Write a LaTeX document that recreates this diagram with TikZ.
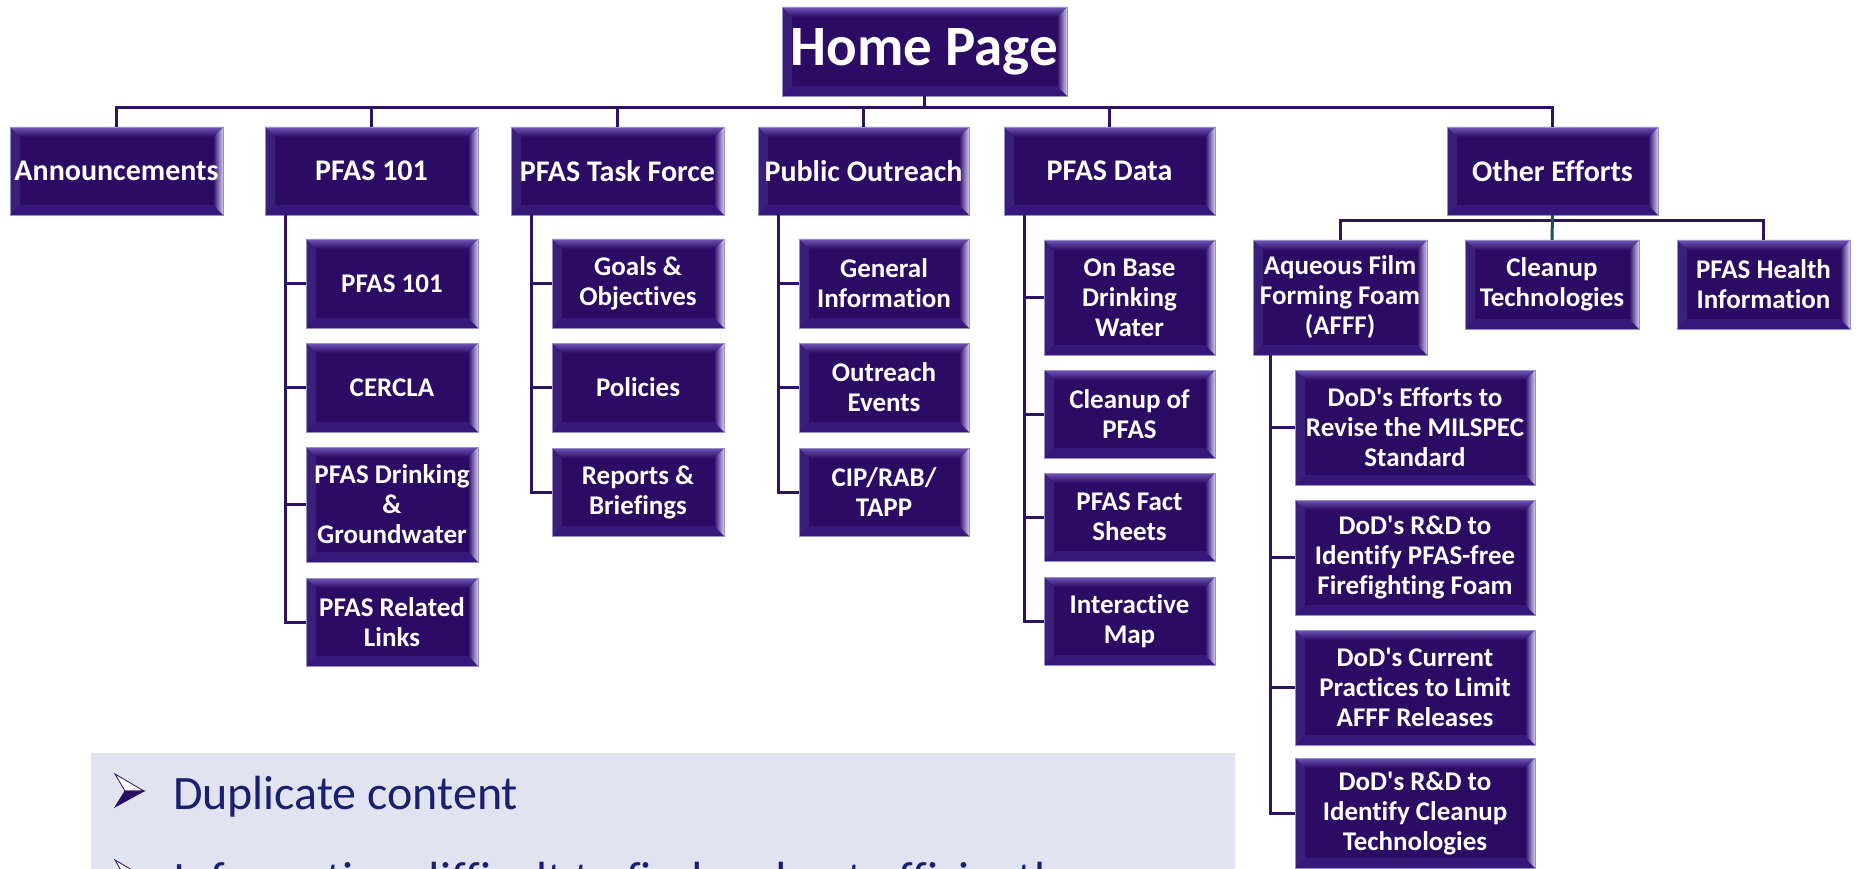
\documentclass[tikz,border=0pt]{standalone}
\usepackage{fontspec}
\setmainfont{Carlito}[Ligatures={NoCommon}]
\usetikzlibrary{calc}
\definecolor{boxfill}{HTML}{2B0B63}
\definecolor{bevtop}{HTML}{6E55B8}
\definecolor{bevleft}{HTML}{3B2079}
\definecolor{bevright}{HTML}{D4C8F6}
\definecolor{bevbot}{HTML}{36187A}
\definecolor{boxline}{HTML}{9890C4}
\definecolor{connc}{HTML}{2E1266}
\definecolor{tealc}{HTML}{1E4F5C}
\definecolor{panel}{HTML}{E1E3F0}
\definecolor{navy}{HTML}{1A2070}
\tikzset{
  orgbox/.style={draw=boxline, line width=0.8pt, fill=boxfill, inner sep=0pt, outer sep=0pt,
    text=white, align=center, font=\bfseries\fontsize{27}{30}\selectfont,
    path picture={
      \coordinate (bA) at (path picture bounding box.north west);
      \coordinate (bB) at (path picture bounding box.north east);
      \coordinate (bC) at (path picture bounding box.south east);
      \coordinate (bD) at (path picture bounding box.south west);
      \fill[bevleft] (bA) -- ($(bA)+(10pt,-10pt)$) -- ($(bD)+(10pt,10pt)$) -- (bD) -- cycle;
      \fill[bevbot] (bD) -- ($(bD)+(10pt,10pt)$) -- ($(bC)+(-10pt,10pt)$) -- (bC) -- cycle;
      \shade[left color=boxfill, right color=bevright] (bB) -- (bC) -- ($(bC)+(-10pt,10pt)$) -- ($(bB)+(-10pt,-10pt)$) -- cycle;
      \shade[top color=bevtop, bottom color=boxfill] (bA) -- (bB) -- ($(bB)+(-10pt,-10pt)$) -- ($(bA)+(10pt,-10pt)$) -- cycle;
    }},
  toplvl/.style={font=\bfseries\fontsize{30}{32}\selectfont},
  conn/.style={draw=connc, line width=3pt},
  txt/.style={inner sep=0pt, outer sep=0pt, text=navy, font=\fontsize{48}{52}\selectfont},
}
\newcommand{\mybox}[7][]{\node[orgbox, #1, minimum width={(#5-#3)*1pt}, minimum height={(#6-#4)*1pt}] (#2) at ({(#3+#5)/2},{(#4+#6)/2}) {#7};}
\newcommand{\bularrow}[2]{%
  \filldraw[fill=white, draw=boxfill, line width=0.8pt] (#1,#2) -- ++(29,17) -- ++(-19,0) -- cycle;
  \filldraw[fill=boxfill, draw=boxfill, line width=0.8pt] ({#1+10},{#2+17}) -- ++(19,0) -- ({#1},{#2+33}) -- cycle;}
\begin{document}
\begin{tikzpicture}[x=1pt,y=-1pt]
\useasboundingbox (0,0) rectangle (1856,869);
\fill[white] (0,0) rectangle (1856,869);

% bottom panel
\fill[panel] (91,753) rectangle (1235,900);
\bularrow{115}{774}
\node[txt, anchor=base west] (dup) at (173,809) {Duplicate content};
\bularrow{115}{860}
\node[txt, anchor=base west] (info) at (173,895) {Information difficult to find and not efficiently};

% top
\mybox[font=\bfseries\fontsize{57}{60}\selectfont]{home}{782}{7}{1067}{96}{Home Page}
\mybox[toplvl]{ann}{10}{127}{223}{215}{Announcements}
\mybox[toplvl]{pa}{265}{127}{478}{215}{PFAS 101}
\mybox[toplvl]{tf}{511}{127}{724}{215}{PFAS Task Force}
\mybox[toplvl]{po}{758}{127}{969}{215}{Public Outreach}
\mybox[toplvl]{pd}{1004}{127}{1215}{215}{PFAS Data}
\mybox[toplvl]{oe}{1447}{127}{1658}{215}{Other Efforts}

% PFAS 101
\mybox{pa1}{306}{239}{478}{328}{PFAS 101}
\mybox{pa2}{306}{343}{478}{432}{CERCLA}
\mybox{pa3}{306}{447}{478}{562}{PFAS Drinking\\\&\\Groundwater}
\mybox{pa4}{306}{578}{478}{666}{PFAS Related\\Links}
% Task force
\mybox{tf1}{552}{239}{724}{328}{Goals \&\\Objectives}
\mybox{tf2}{552}{343}{724}{432}{Policies}
\mybox{tf3}{552}{448}{724}{536}{Reports \&\\Briefings}
% Public outreach
\mybox{po1}{799}{239}{969}{328}{General\\Information}
\mybox{po2}{799}{343}{969}{432}{Outreach\\Events}
\mybox{po3}{799}{448}{969}{536}{CIP/RAB/\\TAPP}
% PFAS Data
\mybox{pd1}{1044}{240}{1215}{355}{On Base\\Drinking\\Water}
\mybox{pd2}{1044}{370}{1215}{458}{Cleanup of\\PFAS}
\mybox{pd3}{1044}{473}{1215}{561}{PFAS Fact\\Sheets}
\mybox{pd4}{1044}{577}{1215}{665}{Interactive\\Map}
% Other efforts
\mybox{af}{1253}{240}{1427}{355}{Aqueous Film\\Forming Foam\\(AFFF)}
\mybox{ct}{1465}{240}{1639}{329}{Cleanup\\Technologies}
\mybox{ph}{1677}{240}{1850}{329}{PFAS Health\\Information}
\mybox{af1}{1295}{370}{1535}{485}{DoD\textquotesingle s Efforts to\\Revise the MILSPEC\\Standard}
\mybox{af2}{1295}{500}{1535}{615}{DoD\textquotesingle s R\&D to\\Identify PFAS-free\\Firefighting Foam}
\mybox{af3}{1295}{630}{1535}{745}{DoD\textquotesingle s Current\\Practices to Limit\\AFFF Releases}
\mybox{af4}{1295}{758}{1535}{868}{DoD\textquotesingle s R\&D to\\Identify Cleanup\\Technologies}

% connectors
\coordinate (bus) at (0,108);
\coordinate (sbus) at (0,221);
\draw[conn] (ann.north) -- (ann.north |- bus) -- (oe.north |- bus) -- (oe.north);
\foreach \n in {pa,tf,po,pd} \draw[conn] (\n.north) -- (\n.north |- bus);
\draw[conn] (home.south) -- (home.south |- bus);

\coordinate (paL) at ([xshift=20pt]pa.south west);
\draw[conn] (paL) |- (pa4.west);
\foreach \c in {pa1,pa2,pa3} \draw[conn] (paL |- \c.west) -- (\c.west);
\coordinate (tfL) at ([xshift=20pt]tf.south west);
\draw[conn] (tfL) |- (tf3.west);
\foreach \c in {tf1,tf2} \draw[conn] (tfL |- \c.west) -- (\c.west);
\coordinate (poL) at ([xshift=20pt]po.south west);
\draw[conn] (poL) |- (po3.west);
\foreach \c in {po1,po2} \draw[conn] (poL |- \c.west) -- (\c.west);
\coordinate (pdL) at ([xshift=20pt]pd.south west);
\draw[conn] (pdL) |- (pd4.west);
\foreach \c in {pd1,pd2,pd3} \draw[conn] (pdL |- \c.west) -- (\c.west);
\coordinate (afL) at ([xshift=17pt]af.south west);
\draw[conn] (afL) |- (af4.west);
\foreach \c in {af1,af2,af3} \draw[conn] (afL |- \c.west) -- (\c.west);

\draw[conn] (af.north) -- (af.north |- sbus) -- (ph.north |- sbus) -- (ph.north);
\draw[conn, draw=tealc] (oe.south) -- (ct.north);
\end{tikzpicture}
\end{document}
